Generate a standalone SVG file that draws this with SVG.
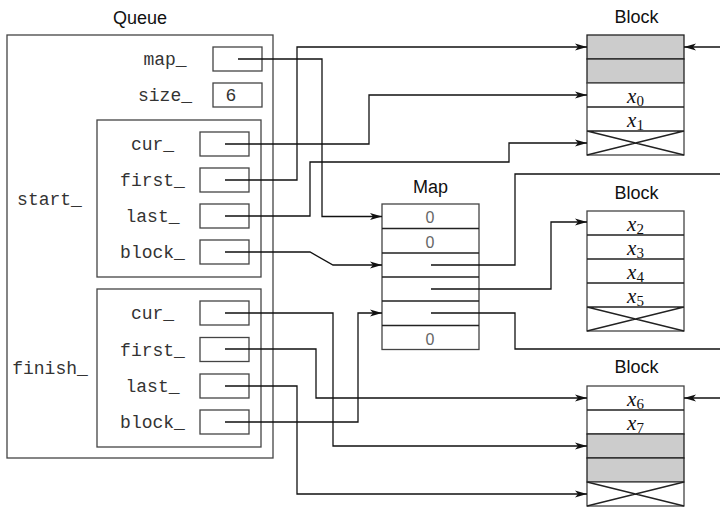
<svg xmlns="http://www.w3.org/2000/svg" width="720" height="508" viewBox="0 0 720 508">
<defs>
<style>
.box{fill:#fff;stroke:#444;stroke-width:1.3}
.grey{fill:#ccc;stroke:#222;stroke-width:1.3}
.cell{fill:#fff;stroke:#444;stroke-width:1.3}
.sep{stroke:#222;stroke-width:1.3;fill:none}
.title{font-family:"Liberation Sans",Arial,sans-serif;font-size:18px;fill:#111;text-anchor:middle}
.mono{font-family:"Liberation Mono","Courier New",monospace;font-size:18px;fill:#333;text-anchor:middle}
.zero{font-family:"Liberation Sans",Arial,sans-serif;font-size:16px;fill:#666;text-anchor:middle}
.var{font-family:"Liberation Serif","Times New Roman",serif;font-size:21px;fill:#111;text-anchor:middle}
.var tspan.x{font-style:italic}
.conn path{fill:none;stroke:#111;stroke-width:1.3}
.arr{marker-end:url(#ah)}
</style>
<marker id="ah" markerUnits="userSpaceOnUse" markerWidth="14" markerHeight="10" viewBox="0 -5 14 10" refX="12" refY="0" orient="auto">
<path d="M0,-3.5 L12,0 L0,3.5 L3,0 z" fill="#111"/>
</marker>
</defs>
<rect width="720" height="508" fill="#fff"/>

<g id="queue">
<text class="title" x="140" y="24">Queue</text>
<rect class="box" x="7" y="35" width="266" height="423"/>
<text class="mono" x="165" y="65">map_</text>
<rect class="box" x="213" y="47" width="49" height="24"/>
<text class="mono" x="165" y="101">size_</text>
<rect class="box" x="213" y="83" width="49" height="24"/>
<text class="mono" x="231" y="101">6</text>
</g>

<g id="start">
<text class="mono" x="49.5" y="205">start_</text>
<rect class="box" x="97" y="120" width="164" height="157"/>
<text class="mono" x="152.5" y="150">cur_</text>
<rect class="box" x="200" y="132" width="49" height="24"/>
<text class="mono" x="152.5" y="186">first_</text>
<rect class="box" x="200" y="168" width="49" height="24"/>
<text class="mono" x="152.5" y="222">last_</text>
<rect class="box" x="200" y="204" width="49" height="24"/>
<text class="mono" x="152.5" y="258">block_</text>
<rect class="box" x="200" y="240" width="49" height="24"/>
</g>

<g id="finish">
<text class="mono" x="50" y="374">finish_</text>
<rect class="box" x="97" y="289" width="164" height="158"/>
<text class="mono" x="152.5" y="319">cur_</text>
<rect class="box" x="200" y="301" width="49" height="24"/>
<text class="mono" x="152.5" y="355.5">first_</text>
<rect class="box" x="200" y="337.5" width="49" height="24"/>
<text class="mono" x="152.5" y="392">last_</text>
<rect class="box" x="200" y="374" width="49" height="24"/>
<text class="mono" x="152.5" y="428">block_</text>
<rect class="box" x="200" y="410" width="49" height="24"/>
</g>

<g id="map">
<text class="title" x="430.5" y="193">Map</text>
<rect class="box" x="382" y="204" width="97" height="145.5"/>
<path class="sep" d="M382,228.5H479M382,253H479M382,277H479M382,301H479M382,325.5H479"/>
<text class="zero" x="430" y="223">0</text>
<text class="zero" x="430" y="247.5">0</text>
<text class="zero" x="430" y="344.5">0</text>
</g>

<g id="block1">
<text class="title" x="636.5" y="23">Block</text>
<rect class="grey" x="587" y="35" width="97" height="24"/>
<rect class="grey" x="587" y="59" width="97" height="24"/>
<rect class="cell" x="587" y="83" width="97" height="72"/>
<path class="sep" d="M587,107H684M587,131H684M587,131L684,155M587,155L684,131"/>
<text class="var" x="635.5" y="103"><tspan class="x">x</tspan><tspan font-size="15" dy="2.5">0</tspan></text>
<text class="var" x="635.5" y="127"><tspan class="x">x</tspan><tspan font-size="15" dy="2.5">1</tspan></text>
</g>

<g id="block2">
<text class="title" x="636.5" y="199">Block</text>
<rect class="cell" x="587" y="211" width="97" height="120"/>
<path class="sep" d="M587,235H684M587,259H684M587,283H684M587,307H684M587,307L684,331M587,331L684,307"/>
<text class="var" x="635.5" y="231"><tspan class="x">x</tspan><tspan font-size="15" dy="2.5">2</tspan></text>
<text class="var" x="635.5" y="255"><tspan class="x">x</tspan><tspan font-size="15" dy="2.5">3</tspan></text>
<text class="var" x="635.5" y="279"><tspan class="x">x</tspan><tspan font-size="15" dy="2.5">4</tspan></text>
<text class="var" x="635.5" y="303"><tspan class="x">x</tspan><tspan font-size="15" dy="2.5">5</tspan></text>
</g>

<g id="block3">
<text class="title" x="636.5" y="373">Block</text>
<rect class="cell" x="587" y="386" width="97" height="48"/>
<rect class="grey" x="587" y="434" width="97" height="24"/>
<rect class="grey" x="587" y="458" width="97" height="24"/>
<rect class="cell" x="587" y="482" width="97" height="24"/>
<path class="sep" d="M587,410H684M587,482L684,506M587,506L684,482"/>
<text class="var" x="635.5" y="406"><tspan class="x">x</tspan><tspan font-size="15" dy="2.5">6</tspan></text>
<text class="var" x="635.5" y="430"><tspan class="x">x</tspan><tspan font-size="15" dy="2.5">7</tspan></text>
</g>

<g id="connectors" class="conn">
<path class="arr" d="M238,59H322V216.5H382"/>
<path class="arr" d="M225,144H369V95H587"/>
<path class="arr" d="M225,180H297V47H587"/>
<path class="arr" d="M225,216H310V162H509V143H587"/>
<path class="arr" d="M225,252H310L333,265H382"/>
<path class="arr" d="M225,313H333V446H587"/>
<path class="arr" d="M225,349H316V398H587"/>
<path class="arr" d="M225,386H297V494H587"/>
<path class="arr" d="M225,422H358V313H382"/>
<path d="M431,265H515V174H720"/>
<path class="arr" d="M431,289H551V222H587"/>
<path d="M431,313H515V349H720"/>
<path class="arr" d="M720,47H684"/>
<path class="arr" d="M720,398H684"/>
</g>
</svg>
